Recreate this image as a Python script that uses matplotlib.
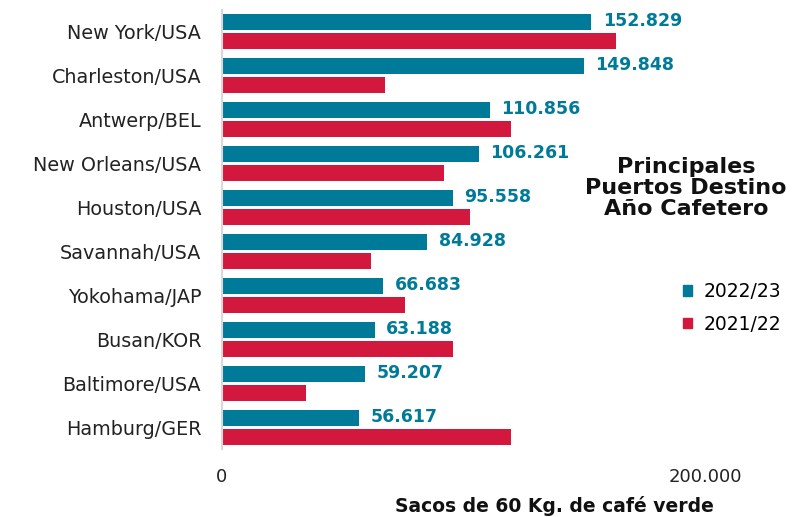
import numpy as np
import matplotlib.pyplot as plt
from matplotlib.patches import Patch

puertos = ["New York/USA", "Charleston/USA", "Antwerp/BEL", "New Orleans/USA",
           "Houston/USA", "Savannah/USA", "Yokohama/JAP", "Busan/KOR",
           "Baltimore/USA", "Hamburg/GER"]
v_2223 = [152829, 149848, 110856, 106261, 95558, 84928, 66683, 63188, 59207, 56617]
v_2122 = [163200, 67500, 119600, 92100, 102900, 61900, 75900, 95800, 34900, 119600]
etiquetas = ["152.829", "149.848", "110.856", "106.261", "95.558",
             "84.928", "66.683", "63.188", "59.207", "56.617"]

teal = "#007A99"
rojo = "#D2183D"
plt.rcParams['font.family'] = ['DejaVu Sans']

fig = plt.figure(figsize=(7.99, 5.17), dpi=100)
ax = fig.add_axes([0.2778, 0.1306, 0.6045, 0.851])

y = np.arange(len(puertos))
h = 0.36
ax.barh(y - 0.215, v_2223, height=h, color=teal, label="2022/23")
ax.barh(y + 0.215, v_2122, height=h, color=rojo, label="2021/22")

for i, (v, t) in enumerate(zip(v_2223, etiquetas)):
    ax.text(v + 4800, i - 0.24, t, color=teal, fontsize=12.5, fontweight='bold',
            va='center', ha='left')

ax.set_xlim(0, 200000)
ax.set_ylim(9.5, -0.5)
ax.set_yticks(y)
ax.set_yticklabels(puertos, fontsize=13.8, color="#222222")
ax.set_xticks([0, 200000])
ax.set_xticklabels(["0", "200.000"], fontsize=13, color="#222222")
ax.tick_params(axis='y', length=0, pad=15)
ax.tick_params(axis='x', length=0, pad=13)
for s in ["top", "right", "bottom"]:
    ax.spines[s].set_visible(False)
ax.spines["left"].set_color("#d9d9d9")
ax.spines["left"].set_linewidth(1.5)

fig.text(554 / 799, 1 - 506 / 517, "Sacos de 60 Kg. de café verde", fontsize=13.5,
         fontweight='bold', ha='center', va='center', color="#111111")

fig.text(686 / 799, 1 - 188 / 517, "Principales\nPuertos Destino\nAño Cafetero",
         fontsize=16, fontweight='bold', ha='center', va='center',
         linespacing=1.07, color="#111111")

handles = [Patch(color=teal, label="2022/23"), Patch(color=rojo, label="2021/22")]
fig.legend(handles=handles, loc='center left', bbox_to_anchor=(666 / 799, 1 - 308 / 517),
           frameon=False, fontsize=13.5, handlelength=0.5, handleheight=0.5,
           handletextpad=0.6, labelspacing=0.7)

fig.savefig("out.png", dpi=100)
